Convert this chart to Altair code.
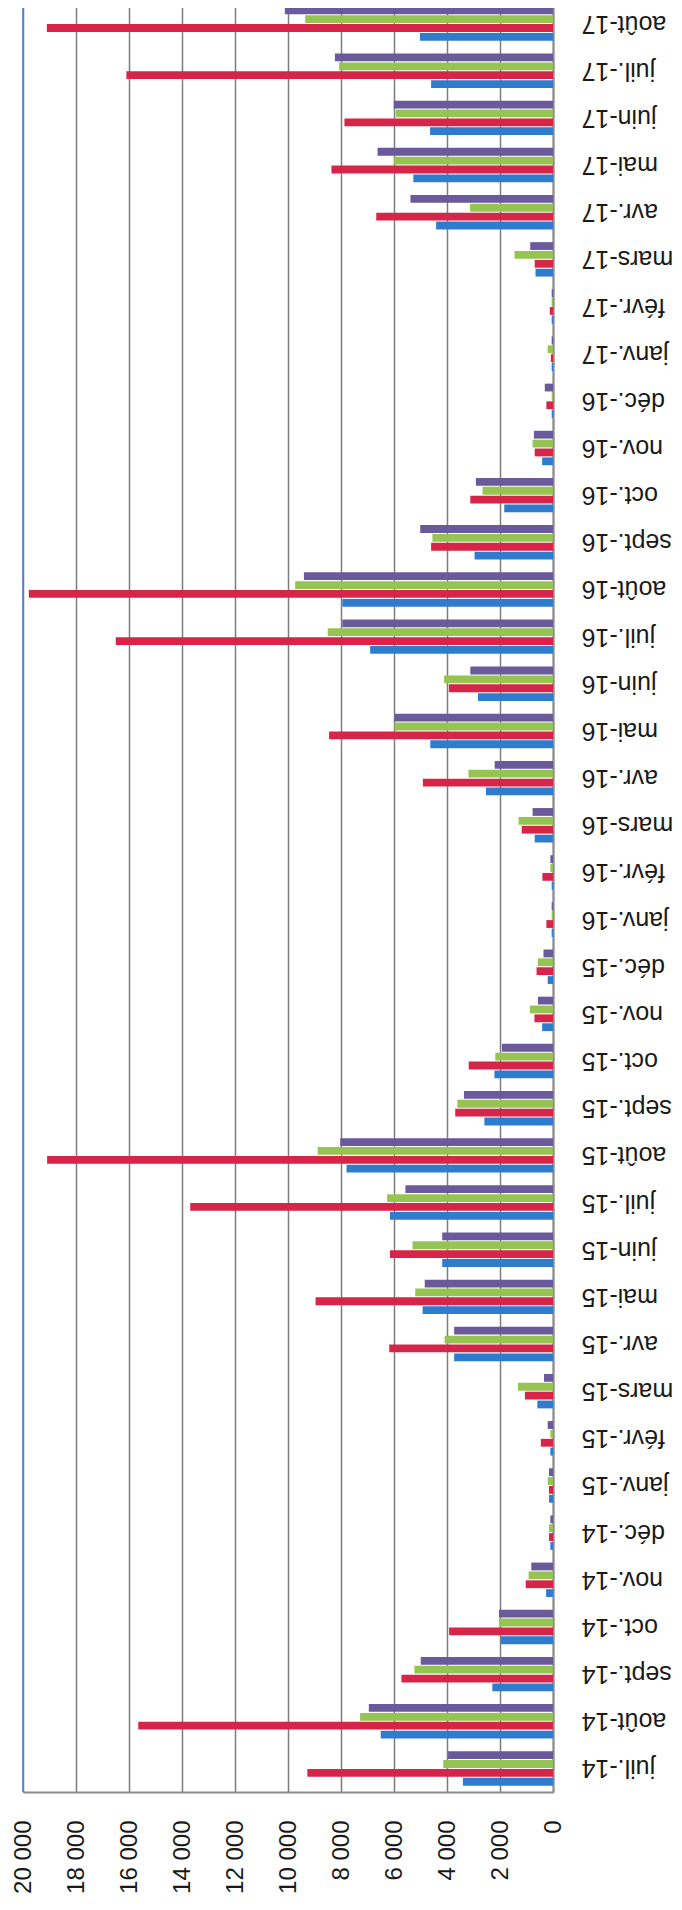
import altair as alt
import pandas as pd

months = ["juil.-14", "août-14", "sept.-14", "oct.-14", "nov.-14", "déc.-14",
          "janv.-15", "févr.-15", "mars-15", "avr.-15", "mai-15", "juin-15",
          "juil.-15", "août-15", "sept.-15", "oct.-15", "nov.-15", "déc.-15",
          "janv.-16", "févr.-16", "mars-16", "avr.-16", "mai-16", "juin-16",
          "juil.-16", "août-16", "sept.-16", "oct.-16", "nov.-16", "déc.-16",
          "janv.-17", "févr.-17", "mars-17", "avr.-17", "mai-17", "juin-17",
          "juil.-17", "août-17"]

serie_purple = [3960, 6950, 4990, 2040, 820, 100, 150, 200, 340, 3730, 4840, 4180,
                5570, 8030, 3360, 1930, 570, 360, 50, 100, 770, 2200, 5980, 3120,
                7950, 9400, 5010, 2910, 720, 310, 50, 50, 860, 5380, 6620, 6010,
                8230, 10120]
serie_green = [4140, 7280, 5230, 2040, 920, 150, 200, 100, 1320, 4090, 5200, 5300,
               6260, 8880, 3610, 2180, 870, 570, 50, 100, 1300, 3190, 5980, 4110,
               8500, 9730, 4550, 2660, 770, 50, 200, 50, 1450, 3130, 6010, 5930,
               8070, 9350]
serie_red = [9270, 15650, 5720, 3920, 1030, 150, 150, 460, 1060, 6180, 8960, 6150,
             13690, 19090, 3690, 3180, 700, 620, 250, 400, 1180, 4910, 8450, 3930,
             16500, 19780, 4600, 3120, 690, 250, 80, 120, 690, 6670, 8360, 7870,
             16100, 19100]
serie_blue = [3400, 6500, 2290, 1960, 260, 100, 150, 100, 590, 3730, 4920, 4180,
              6150, 7790, 2590, 2210, 410, 200, 50, 50, 690, 2530, 4630, 2830,
              6900, 7950, 2960, 1840, 410, 50, 50, 50, 660, 4410, 5270, 4640,
              4600, 5020]

series_names = ["Série 4", "Série 3", "Série 2", "Série 1"]
series_colors = ["#6a5a9c", "#96c452", "#d62548", "#2f7ccf"]
series_values = [serie_purple, serie_green, serie_red, serie_blue]
tick_values = list(range(0, 20001, 2000))

rows = []
for name, vals in zip(series_names, series_values):
    for m, v in zip(months, vals):
        rows.append({"mois": m, "serie": name, "valeur": v})
df = pd.DataFrame(rows)

font = "Liberation Sans"

bars = alt.Chart(df).mark_bar().encode(
    y=alt.Y("mois:N", sort=list(reversed(months)),
            scale=alt.Scale(paddingInner=0.27, paddingOuter=0.135),
            axis=alt.Axis(orient="right", title=None, labelAngle=180,
                          labelAlign="right", labelBaseline="middle",
                          labelPadding=28, labelFontSize=25, labelFont=font,
                          labelColor="#1a1a1a", ticks=False, grid=False,
                          domainColor="#8a8a8a", domainWidth=2)),
    yOffset=alt.YOffset("serie:N", sort=series_names,
                        scale=alt.Scale(paddingInner=0.12)),
    x=alt.X("valeur:Q",
            scale=alt.Scale(domain=[0, 20000], reverse=True, nice=False),
            axis=alt.Axis(orient="bottom", title=None, values=tick_values,
                          labelExpr="replace(format(datum.value, ','), ',', ' ')",
                          labelAngle=270, labelAlign="right",
                          labelBaseline="middle", labelPadding=28,
                          labelFontSize=24, labelFont=font,
                          labelColor="#1a1a1a", ticks=False,
                          grid=True, gridColor="#7c7c7c", gridWidth=1.5,
                          domainColor="#8a8a8a", domainWidth=2)),
    color=alt.Color("serie:N", scale=alt.Scale(domain=series_names,
                                               range=series_colors),
                    legend=None),
)

border = alt.Chart(pd.DataFrame({"v": [20000]})).mark_rule(
    color="#4a7fdc", strokeWidth=1.5
).encode(x="v:Q")

chart = alt.layer(bars, border).properties(
    width=530, height=1792,
    autosize=alt.AutoSizeParams(type="none"),
    padding={"left": 15, "top": -8, "right": 121, "bottom": 110},
).configure_view(stroke=None).configure(background="white")

chart.save("out.html", embed_options={"renderer": "svg", "actions": False})
